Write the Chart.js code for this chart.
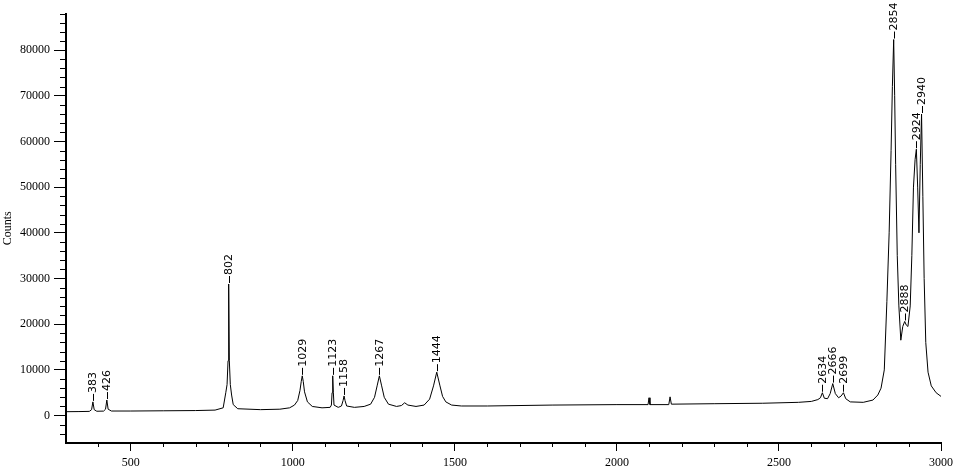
<!DOCTYPE html>
<html>
<head>
<meta charset="utf-8">
<script src="https://cdn.jsdelivr.net/npm/chart.js@4.4.1/dist/chart.umd.min.js"></script>
<style>
html,body{margin:0;padding:0;background:#fff;}
#c{display:block;}
</style>
</head>
<body>
<canvas id="c" width="953" height="470"></canvas>
<script>
// Raman shift (cm-1) and counts
const wavenumbers = [300,340,372,379,383,387,395,416,422,426,430,440,500,600,700,760,785,793,797,800,802,804,807,811,816,830,900,960,990,1005,1015,1022,1026,1029,1032,1036,1045,1060,1090,1115,1119,1121,1123,1125,1127,1140,1150,1155,1158,1161,1166,1190,1220,1240,1252,1260,1267,1274,1282,1295,1320,1335,1345,1355,1380,1405,1422,1434,1444,1454,1462,1472,1490,1520,1600,1800,2000,2096,2099,2102,2160,2164,2168,2300,2450,2560,2600,2620,2628,2634,2640,2650,2658,2666,2674,2684,2692,2699,2706,2720,2760,2790,2805,2815,2825,2833,2840,2846,2850,2854,2857,2860,2865,2870,2876,2882,2888,2893,2898,2905,2910,2915,2920,2924,2928,2932,2936,2940,2944,2948,2953,2960,2970,2985,3000];
const counts = [850,880,920,1300,3000,1300,950,980,1400,3400,1400,1000,1000,1050,1100,1200,1700,5000,6800,12000,28800,12000,6800,4500,2400,1500,1300,1400,1700,2300,3300,5500,7500,8700,7500,5200,3000,2000,1700,1800,2300,5000,8700,5000,2300,1800,2100,3300,4300,3300,2100,1800,2000,2500,4000,6500,8700,6500,4000,2500,2000,2200,2800,2300,2000,2300,3600,6500,9500,6500,4200,3000,2300,2100,2100,2300,2400,2400,3900,2400,2400,4100,2500,2600,2700,2900,3100,3500,3900,5000,3800,3700,4800,7000,4800,3900,4300,5000,3700,3000,2900,3400,4500,6000,10000,25000,40000,58000,72000,82300,70000,55000,35000,24000,16500,19500,20600,19800,19500,24000,35000,50000,56000,58300,50000,40000,55000,66000,48000,30000,16000,9500,6500,5000,4200];
// labelled peaks
const peakPositions = [383,426,802,1029,1123,1158,1267,1444,2634,2666,2699,2854,2888,2924,2940];
const peakLabels = ["383","426","802","1029","1123","1158","1267","1444","2634","2666","2699","2854","2888","2924","2940"];
// axis ticks
const xTickValues = [500,1000,1500,2000,2500,3000];
const yTickValues = [0,10000,20000,30000,40000,50000,60000,70000,80000];
const xMinorStep = 100;
const yMinorStep = 2000;

const points = wavenumbers.map((w,i)=>({x:w,y:counts[i]}));

const extras = {
  id:'extras',
  afterDraw(chart){
    const ctx = chart.ctx;
    const xs = chart.scales.x, ys = chart.scales.y;
    const ca = chart.chartArea;
    ctx.save();
    ctx.strokeStyle = '#000';
    ctx.lineWidth = 1;
    ctx.beginPath();
    for (let v = 400; v < 3000; v += xMinorStep) {
      if (xTickValues.includes(v)) continue;
      const px = Math.round(xs.getPixelForValue(v)) + 0.5;
      ctx.moveTo(px, ca.bottom); ctx.lineTo(px, ca.bottom + 4);
    }
    for (let v = -4000; v <= 88000; v += yMinorStep) {
      if (yTickValues.includes(v)) continue;
      const py = Math.round(ys.getPixelForValue(v)) + 0.5;
      ctx.moveTo(ca.left, py); ctx.lineTo(ca.left - 6, py);
    }
    ctx.stroke();
    ctx.fillStyle = '#000';
    ctx.font = '11px "DejaVu Sans"';
    ctx.textAlign = 'left';
    ctx.textBaseline = 'middle';
    peakPositions.forEach((p,i)=>{
      const idx = wavenumbers.indexOf(p);
      const val = counts[idx];
      const px = xs.getPixelForValue(p);
      const py = ys.getPixelForValue(val);
      ctx.beginPath();
      ctx.moveTo(Math.round(px)+0.5, py - 1);
      ctx.lineTo(Math.round(px)+0.5, py - 8);
      ctx.stroke();
      ctx.save();
      ctx.translate(px + 0.5, py - 9);
      ctx.rotate(-Math.PI/2);
      ctx.fillText(peakLabels[i], 0, 0);
      ctx.restore();
    });
    ctx.restore();
  }
};

new Chart(document.getElementById('c'), {
  type:'line',
  data:{datasets:[{data:points, borderColor:'#000', borderWidth:1, pointRadius:0, tension:0, fill:false}]},
  options:{
    responsive:false,
    animation:false,
    devicePixelRatio:1,
    layout:{padding:{top:13.5,right:12,left:0,bottom:0}},
    plugins:{legend:{display:false},tooltip:{enabled:false}},
    scales:{
      x:{
        type:'linear', min:300, max:3000,
        afterBuildTicks:s=>{s.ticks = xTickValues.map(v=>({value:v}));},
        afterFit:s=>{s.height = 27; s.paddingLeft = 0; s.paddingRight = 0;},
        ticks:{color:'#000', font:{family:'"Liberation Serif"', size:12}, padding:5, maxRotation:0, autoSkip:false, callback:v=>String(v)},
        grid:{display:true, drawOnChartArea:false, drawTicks:true, tickLength:8, color:'#000', lineWidth:1},
        border:{display:true, color:'#000', width:2}
      },
      y:{
        type:'linear', min:-6000, max:88000,
        afterBuildTicks:s=>{s.ticks = yTickValues.map(v=>({value:v}));},
        afterFit:s=>{s.width = 66; s.paddingTop = 0; s.paddingBottom = 0;},
        ticks:{color:'#000', font:{family:'"Liberation Serif"', size:12}, padding:4, callback:v=>String(v)},
        grid:{display:true, drawOnChartArea:false, drawTicks:true, tickLength:12, color:'#000', lineWidth:1},
        border:{display:true, color:'#000', width:2},
        title:{display:true, text:'Counts', color:'#000', font:{family:'"Liberation Serif"', size:12}, padding:{top:1,bottom:0}}
      }
    }
  },
  plugins:[extras]
});
</script>
</body>
</html>
